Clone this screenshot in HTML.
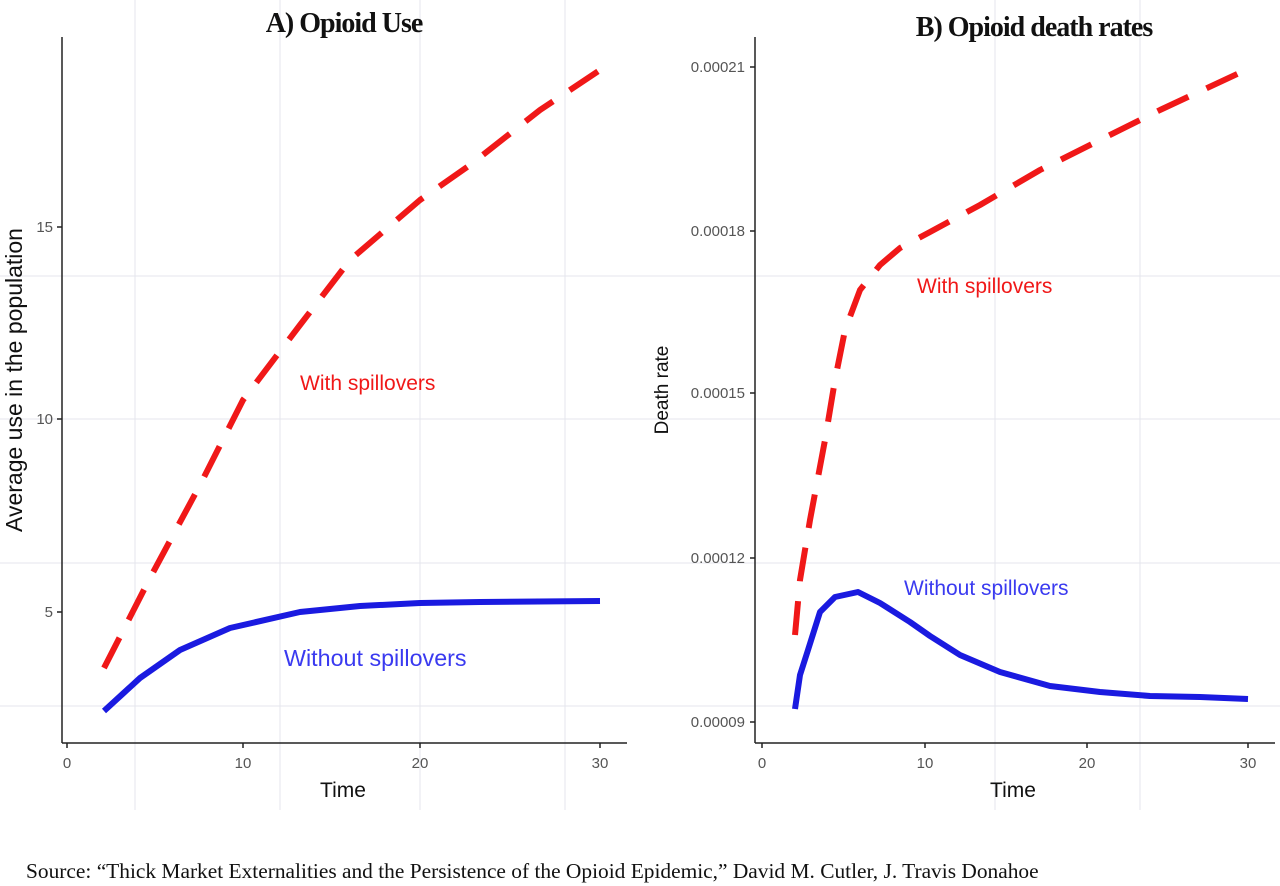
<!DOCTYPE html>
<html><head><style>body{margin:0;background:#fff}svg{display:block}</style></head>
<body>
<svg width="1280" height="886" xmlns="http://www.w3.org/2000/svg">
<g stroke="#e4e6ec" stroke-width="1">
<line x1="0" y1="276" x2="1280" y2="276"/><line x1="0" y1="419" x2="1280" y2="419"/>
<line x1="0" y1="563" x2="1280" y2="563"/><line x1="0" y1="706" x2="1280" y2="706"/>
<line x1="280" y1="0" x2="280" y2="810"/><line x1="420" y1="0" x2="420" y2="810"/>
<line x1="565" y1="0" x2="565" y2="810"/><line x1="135" y1="0" x2="135" y2="810"/>
<line x1="995" y1="0" x2="995" y2="810"/><line x1="1140" y1="0" x2="1140" y2="810"/>
</g>
<g font-family="Liberation Serif, serif" font-weight="bold" font-size="28" text-anchor="middle" fill="#111">
<text x="344" y="32" letter-spacing="-1">A) Opioid Use</text>
<text x="1034" y="36" letter-spacing="-1">B) Opioid death rates</text>
</g>
<g stroke="#222" stroke-width="1.5" fill="none">
<line x1="62" y1="37" x2="62" y2="743"/><line x1="62" y1="743" x2="627" y2="743"/>
<line x1="755" y1="37" x2="755" y2="743"/><line x1="755" y1="743" x2="1275" y2="743"/>
<path d="M57 227H62M57 419H62M57 612H62M67 743V748M243 743V748M420 743V748M600 743V748"/>
<path d="M750 67H755M750 231H755M750 393H755M750 558H755M750 722H755M762 743V748M925 743V748M1087 743V748M1248 743V748"/>
</g>
<g font-family="Liberation Sans, sans-serif" font-size="15" fill="#555">
<g text-anchor="end"><text x="53" y="232">15</text><text x="53" y="424">10</text><text x="53" y="617">5</text>
<text x="745" y="72">0.00021</text><text x="745" y="236">0.00018</text><text x="745" y="398">0.00015</text><text x="745" y="563">0.00012</text><text x="745" y="727">0.00009</text></g>
<g text-anchor="middle"><text x="67" y="768">0</text><text x="243" y="768">10</text><text x="420" y="768">20</text><text x="600" y="768">30</text>
<text x="762" y="768">0</text><text x="925" y="768">10</text><text x="1087" y="768">20</text><text x="1248" y="768">30</text></g>
</g>
<g font-family="Liberation Sans, sans-serif" font-size="21" fill="#111" text-anchor="middle">
<text x="343" y="797">Time</text><text x="1013" y="797">Time</text>
<text transform="translate(22,380) rotate(-90)" font-size="23">Average use in the population</text>
<text transform="translate(668,390) rotate(-90)" font-size="19">Death rate</text>
</g>
<g fill="none" stroke-width="6" stroke-linecap="butt" stroke-linejoin="round">
<path stroke="#f01818" stroke-dasharray="34,20" d="M104 668 L150 578 L200 485 L243 400 L300 325 L350 260 L420 200 L470 165 L540 110 L600 70"/>
<path stroke="#1a1ae0" d="M104 711 L140 678 L180 650 L230 628 L300 612 L360 606 L420 603 L480 602 L600 601"/>
<path stroke="#f01818" stroke-dasharray="34,20" d="M795 635 L800 580 L810 520 L825 440 L835 380 L845 330 L860 290 L880 265 L900 248 L930 232 L980 205 L1040 170 L1100 140 L1160 110 L1250 68"/>
<path stroke="#1a1ae0" d="M795 709 L800 675 L808 650 L820 612 L835 597 L858 592 L880 603 L910 622 L930 636 L960 655 L1000 672 L1050 686 L1100 692 L1150 696 L1200 697 L1248 699"/>
</g>
<g font-family="Liberation Sans, sans-serif" font-size="21">
<text x="300" y="390" fill="#f01818">With spillovers</text>
<text x="284" y="666" fill="#3a3af0" font-size="23.3">Without spillovers</text>
<text x="917" y="293" fill="#f01818">With spillovers</text>
<text x="904" y="595" fill="#3a3af0">Without spillovers</text>
</g>
<text x="26" y="878" font-family="Liberation Serif, serif" font-size="21.4" fill="#111">Source: “Thick Market Externalities and the Persistence of the Opioid Epidemic,” David M. Cutler, J. Travis Donahoe</text>
</svg>
</body></html>
